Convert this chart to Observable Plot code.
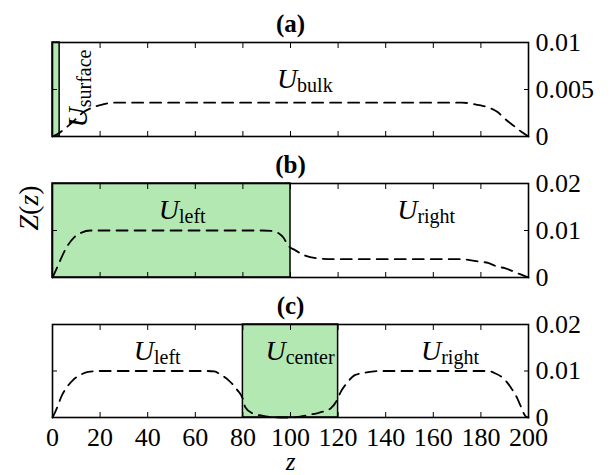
<!DOCTYPE html>
<html><head><meta charset="utf-8">
<script src="https://cdn.jsdelivr.net/npm/d3@7"></script>
<script src="https://cdn.jsdelivr.net/npm/@observablehq/plot@0.6"></script>
<style>
body{margin:0;background:#fff}
#chart{position:relative;width:612px;height:475px;font-family:'Liberation Serif',serif}
#chart svg{position:absolute;left:0;overflow:visible;background:transparent}
#chart svg text{font-family:'Liberation Serif',serif !important}
</style>
</head><body><div id="chart"></div>
<script>
// ---- data ----
const xTicks = [0, 20, 40, 60, 80, 100, 120, 140, 160, 180, 200];
const aYTicks = [0, 0.005, 0.01];
const aYLabels = ["0", "0.005", "0.01"];
const bcYTicks = [0, 0.01, 0.02];
const bcYLabels = ["0", "0.01", "0.02"];

// panel (a)
const aZ = [0, 3, 6, 10, 13, 17, 21, 26, 40, 80, 120, 160, 172, 176, 180, 183, 187, 190, 194, 197, 200];
const aV = [0, 0.0004, 0.0010, 0.0019, 0.0026, 0.0031, 0.0034, 0.0036, 0.0036, 0.0036, 0.0036, 0.0036, 0.0036, 0.0035, 0.0033, 0.0031, 0.0026, 0.0019, 0.0011, 0.0005, 0];
const aRegions = [[0, 3]];
const aLabels = [["U|bulk", 106]];
const aRotLabels = [["U|surface", 14.7]];

// panel (b)
const bZ = [0, 2, 4, 6, 9, 12, 16, 30, 60, 88, 92, 95, 97, 99, 102, 106, 111, 118, 150, 170, 174, 179, 183, 187, 190, 194.5, 198, 200];
const bV = [0, 0.0022, 0.0045, 0.0065, 0.0085, 0.0095, 0.0100, 0.0100, 0.0100, 0.0100, 0.0099, 0.0094, 0.0085, 0.0068, 0.0058, 0.0047, 0.0041, 0.0039, 0.0039, 0.0039, 0.0038, 0.0034, 0.0031, 0.0023, 0.0020, 0.0011, 0.0004, 0];
const bRegions = [[0, 100]];
const bLabels = [["U|left", 54.5], ["U|right", 157]];

// panel (c)
const cZ = [0, 1.5, 4, 6, 8.5, 11.5, 15, 20, 40, 65, 68, 71, 74, 77.5, 80, 81, 84, 88, 92, 96, 100, 104, 108, 111, 114, 117, 119.5, 121, 124, 127, 132, 138, 160, 183, 186, 189.5, 192.5, 195.3, 196.6, 198.7, 200];
const cV = [0, 0.0016, 0.0048, 0.0065, 0.0080, 0.0091, 0.0098, 0.0100, 0.0100, 0.0100, 0.0099, 0.0091, 0.0080, 0.0060, 0.0040, 0.0022, 0.0009, 0.0004, 0.0001, 0, 0, 0.0002, 0.0006, 0.0009, 0.0013, 0.0020, 0.0037, 0.0054, 0.0076, 0.0091, 0.0097, 0.0100, 0.0100, 0.0100, 0.0095, 0.0084, 0.0065, 0.0041, 0.0026, 0.0003, 0];
const cRegions = [[80, 120]];
const cLabels = [["U|left", 44], ["U|center", 104], ["U|right", 167]];

// ---- drawing ----
const GREEN = "#b3e8b3";
const FONT = "'Liberation Serif', serif";
const NS = "http://www.w3.org/2000/svg";

function panel(o) {
  const curve = o.z.map((z, i) => ({z, v: o.v[i]}));
  const regions = o.regions.map(([a, b]) => ({a, b}));
  const labels = o.labels.map(([t, z]) => ({t, z}));
  const yt = o.yTicks, yl = o.yLabels;
  const marks = [
    Plot.rect(regions, {x1: "a", x2: "b", fill: GREEN, stroke: "black", strokeWidth: 1.5}),
    Plot.line(curve, {x: "z", y: "v", stroke: "black", strokeWidth: 1.8, strokeDasharray: "11,7", curve: "monotone-x"}),
    Plot.frame({stroke: "black", strokeWidth: 1.6}),
    Plot.axisX(xTicks, {anchor: "top", tickSize: -5, tickFormat: () => "", label: null}),
    Plot.axisX(xTicks, {anchor: "bottom", tickSize: -5, tickFormat: () => "", label: null}),
    Plot.axisY([yt[1]], {anchor: "left", tickSize: -5, tickFormat: () => "", label: null}),
    Plot.axisY([yt[1]], {anchor: "right", tickSize: -5, tickFormat: () => "", label: null}),
    Plot.axisY(yt, {anchor: "right", tickSize: 0, tickPadding: 7, tickFormat: d => yl[yt.indexOf(d)], label: null, fontSize: 26}),
    Plot.text(labels, {x: "z", text: "t", frameAnchor: "top", dy: o.labelDy, lineAnchor: "bottom", fontSize: 28}),
    Plot.text([o.title], {frameAnchor: "top", dy: -19, lineAnchor: "middle", fontWeight: "bold", fontSize: 25}),
    ...(o.extra || [])
  ];
  if (o.showX) {
    marks.push(Plot.axisX(xTicks, {anchor: "bottom", tickSize: 0, tickPadding: 10, label: null, fontSize: 26}));
  }
  const svg = Plot.plot({
    width: 612, height: o.height,
    marginLeft: 52, marginRight: 84, marginTop: o.marginTop, marginBottom: o.marginBottom,
    x: {domain: [0, 200], label: null},
    y: {domain: [0, yt[yt.length - 1]], label: null},
    style: `font-family: ${FONT}; font-size: 26px; background: transparent; color: black; overflow: visible;`,
    marks
  });
  svg.style.top = o.top + "px";
  svg.setAttribute("font-family", FONT);
  // subscripts: "U|sub" -> italic U + upright lowered subscript
  svg.querySelectorAll("text").forEach(t => {
    const s = t.textContent;
    if (s.includes("|")) {
      const [main, sub] = s.split("|");
      t.textContent = "";
      const a = document.createElementNS(NS, "tspan");
      a.textContent = main; a.setAttribute("font-style", "italic");
      const b = document.createElementNS(NS, "tspan");
      b.textContent = sub; b.setAttribute("font-size", "20"); b.setAttribute("dy", "4");
      t.append(a, b);
    } else if (s === "Z(z)") {
      t.textContent = "";
      [["Z", true], ["(", false], ["z", true], [")", false]].forEach(([c, it]) => {
        const sp = document.createElementNS(NS, "tspan");
        sp.textContent = c;
        if (it) sp.setAttribute("font-style", "italic");
        t.append(sp);
      });
    }
  });
  document.getElementById("chart").append(svg);
}

panel({
  top: 0, height: 150, marginTop: 42, marginBottom: 14,
  z: aZ, v: aV, regions: aRegions, labels: aLabels, labelDy: 45,
  yTicks: aYTicks, yLabels: aYLabels, title: "(a)",
  extra: [
    Plot.text(aRotLabels.map(([t, z]) => ({t, z})), {x: "z", text: "t", frameAnchor: "bottom", dy: -9, rotate: -90, textAnchor: "start", lineAnchor: "bottom", fontSize: 28})
  ]
});
panel({
  top: 141, height: 150, marginTop: 42, marginBottom: 14,
  z: bZ, v: bV, regions: bRegions, labels: bLabels, labelDy: 35,
  yTicks: bcYTicks, yLabels: bcYLabels, title: "(b)",
  extra: [
    Plot.text(["Z(z)"], {frameAnchor: "left", dx: -23, rotate: -90, lineAnchor: "middle", fontSize: 28})
  ]
});
panel({
  top: 282, height: 193, marginTop: 42, marginBottom: 58,
  z: cZ, v: cV, regions: cRegions, labels: cLabels, labelDy: 35,
  yTicks: bcYTicks, yLabels: bcYLabels, title: "(c)", showX: true,
  extra: [
    Plot.text(["z"], {frameAnchor: "bottom", dy: 44, lineAnchor: "middle", fontStyle: "italic", fontSize: 25})
  ]
});
</script></body></html>
